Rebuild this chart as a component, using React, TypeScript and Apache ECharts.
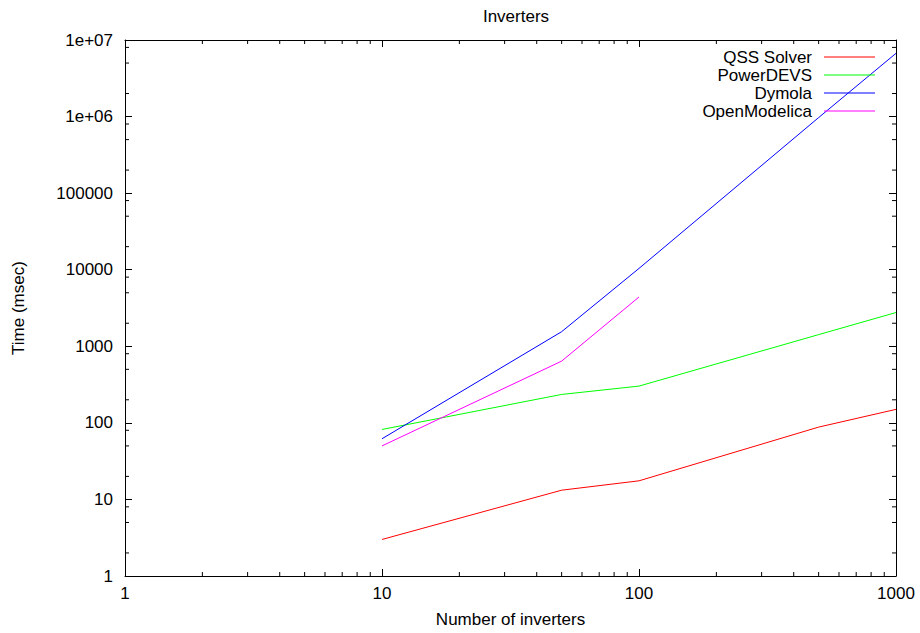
import React, { useEffect, useRef } from "react";
import * as echarts from "echarts";

const INVERTERS = [10, 50, 100, 500, 1000];
const QSS_SOLVER = [3, 13.2, 17.5, 88, 150];
const POWER_DEVS = [82, 235, 302, 1420, 2760];
const DYMOLA = [62, 1550, 10400, 970000, 6700000];
const OPEN_MODELICA = [50, 640, 4400];

const X_MINOR_TICKS = [2, 3, 4, 5, 6, 7, 8, 9, 20, 30, 40, 50, 60, 70, 80, 90, 200, 300, 400, 500, 600, 700, 800, 900];
const Y_MINOR_TICKS = [2, 5, 8, 20, 50, 80, 200, 500, 800, 2000, 5000, 8000, 20000, 50000, 80000, 200000, 500000, 800000, 2000000, 5000000, 8000000];

const FONT = "Liberation Sans, Arial, Helvetica, sans-serif";
const FS = 17;

function pairs(xs: number[], ys: number[]) {
  return ys.map((y, i) => [xs[i], y]);
}

export default function App() {
  const ref = useRef<HTMLDivElement>(null);

  useEffect(() => {
    if (!ref.current) return;
    const chart = echarts.init(ref.current, undefined, { renderer: "svg" });

    const axisLine = { show: true, lineStyle: { color: "#000", width: 1 } };
    const majorTick = { show: true, inside: true, length: 7, lineStyle: { color: "#000", width: 1 } };

    const lineSeries = (name: string, color: string, data: number[][]) => ({
      name,
      type: "line",
      data,
      xAxisIndex: 0,
      yAxisIndex: 0,
      showSymbol: false,
      symbol: "none",
      lineStyle: { color, width: 1 },
      itemStyle: { color },
      z: 3,
    });

    const option: any = {
      animation: false,
      backgroundColor: "#fff",
      textStyle: { fontFamily: FONT },
      title: {
        text: "Inverters",
        left: 511,
        textAlign: "center",
        top: 3,
        textStyle: { fontFamily: FONT, fontSize: FS, fontWeight: "normal", color: "#000" },
      },
      legend: {
        orient: "vertical",
        align: "right",
        right: 40,
        top: 43,
        itemWidth: 51,
        itemHeight: 1.2,
        itemGap: 0,
        icon: "rect",
        data: ["QSS Solver", "PowerDEVS", "Dymola", "OpenModelica"],
        itemStyle: { borderWidth: 0 },
        textStyle: { fontFamily: FONT, fontSize: FS, color: "#000", lineHeight: 18, padding: [0, 7, 0, 0] },
        selectedMode: false,
      },
      grid: { left: 125, top: 40, right: 24, bottom: 56, containLabel: false },
      xAxis: [
        {
          type: "log",
          logBase: 10,
          min: 1,
          max: 1000,
          splitNumber: 3,
          position: "bottom",
          name: "Number of inverters",
          nameLocation: "middle",
          nameGap: 35,
          nameTextStyle: { fontFamily: FONT, fontSize: FS, color: "#000" },
          axisLine,
          axisTick: majorTick,
          splitLine: { show: false },
          axisLabel: {
            margin: 9,
            fontFamily: FONT,
            fontSize: FS,
            color: "#000",
            formatter: (v: number) => String(Math.round(v)),
          },
        },
        {
          type: "log",
          logBase: 10,
          min: 1,
          max: 1000,
          splitNumber: 3,
          position: "top",
          axisLine,
          axisTick: majorTick,
          splitLine: { show: false },
          axisLabel: { show: false },
        },
      ],
      yAxis: [
        {
          type: "log",
          logBase: 10,
          min: 1,
          max: 10000000,
          splitNumber: 7,
          position: "left",
          name: "Time (msec)",
          nameLocation: "middle",
          nameGap: 98,
          nameTextStyle: { fontFamily: FONT, fontSize: FS, color: "#000" },
          axisLine,
          axisTick: majorTick,
          splitLine: { show: false },
          axisLabel: {
            margin: 12,
            fontFamily: FONT,
            fontSize: FS,
            color: "#000",
            formatter: (v: number) => {
              const r = Math.round(v);
              if (r >= 1000000) return "1e+0" + Math.round(Math.log10(r));
              return String(r);
            },
          },
        },
        {
          type: "log",
          logBase: 10,
          min: 1,
          max: 10000000,
          splitNumber: 7,
          position: "right",
          axisLine,
          axisTick: majorTick,
          splitLine: { show: false },
          axisLabel: { show: false },
        },
      ],
      series: [
        lineSeries("QSS Solver", "#ff0000", pairs(INVERTERS, QSS_SOLVER)),
        lineSeries("PowerDEVS", "#00ff00", pairs(INVERTERS, POWER_DEVS)),
        lineSeries("Dymola", "#0000ff", pairs(INVERTERS, DYMOLA)),
        lineSeries("OpenModelica", "#ff00ff", pairs(INVERTERS, OPEN_MODELICA)),
        {
          type: "custom",
          name: "xMinor",
          xAxisIndex: 0,
          yAxisIndex: 0,
          silent: true,
          clip: false,
          z: 5,
          data: X_MINOR_TICKS.map((v) => [v, 1]),
          renderItem: (_p: any, api: any) => {
            const v = api.value(0);
            const b = api.coord([v, 1]);
            const t = api.coord([v, 10000000]);
            const s = { stroke: "#000", lineWidth: 1 };
            return {
              type: "group",
              children: [
                { type: "line", shape: { x1: b[0], y1: b[1], x2: b[0], y2: b[1] - 4 }, style: s },
                { type: "line", shape: { x1: t[0], y1: t[1], x2: t[0], y2: t[1] + 4 }, style: s },
              ],
            };
          },
        },
        {
          type: "custom",
          name: "yMinor",
          xAxisIndex: 0,
          yAxisIndex: 0,
          silent: true,
          clip: false,
          z: 5,
          data: Y_MINOR_TICKS.map((v) => [1, v]),
          renderItem: (_p: any, api: any) => {
            const v = api.value(1);
            const l = api.coord([1, v]);
            const r = api.coord([1000, v]);
            const s = { stroke: "#000", lineWidth: 1 };
            return {
              type: "group",
              children: [
                { type: "line", shape: { x1: l[0], y1: l[1], x2: l[0] + 4, y2: l[1] }, style: s },
                { type: "line", shape: { x1: r[0], y1: r[1], x2: r[0] - 4, y2: r[1] }, style: s },
              ],
            };
          },
        },
      ],
    };

    chart.setOption(option);
    return () => chart.dispose();
  }, []);

  return (
    <div
      ref={ref}
      style={{ position: "fixed", left: 0, top: 0, width: 920, height: 633, background: "#fff" }}
    />
  );
}
